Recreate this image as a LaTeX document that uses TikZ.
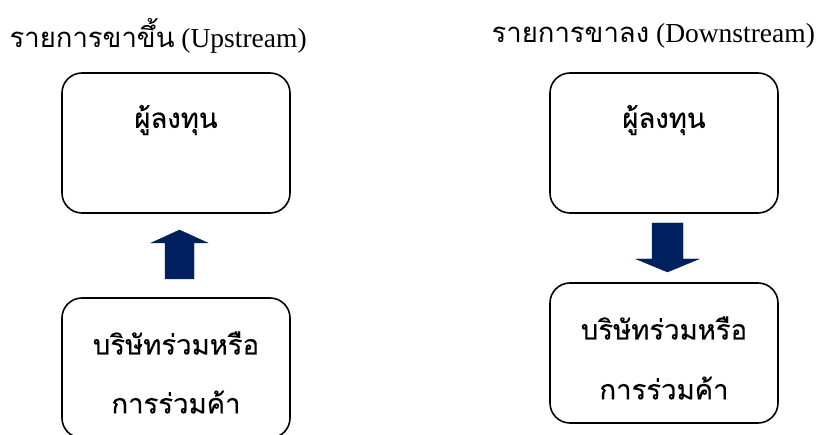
\documentclass[tikz,border=0pt]{standalone}
\usepackage{fontspec}
\setmainfont{Liberation Serif}
\newfontfamily\thai[Script=Thai]{Loma}
\newfontfamily\thaibox[Script=Thai,FakeBold=0.3]{Loma}
\definecolor{navy}{HTML}{002060}
\begin{document}
\begin{tikzpicture}[x=1pt,y=-1pt,
  rbox/.style={draw=black,line width=1.6pt,rounded corners=20pt,minimum width=228pt,inner sep=0pt},
  boxtext/.style={font=\thaibox\fontsize{27.5}{27.5}\selectfont},
  titletext/.style={font=\fontsize{27.5}{27.5}\selectfont,anchor=west},
  blockarrow/.style={fill=navy,draw=navy!80!black,line width=0.4pt}]
\useasboundingbox (0,0) rectangle (820,435);
% titles
\node[titletext] (tl) at (6,36) {{\thai รายการขาขึ้น} (Upstream)};
\node[titletext] (tr) at (488,36) {{\thai รายการขาลง} (Downstream)};
% left boxes
\node[rbox,minimum height=140pt] (lt) at (176,143) {};
\node[boxtext] (ltt) at (176,120) {ผู้ลงทุน};
\node[rbox,minimum height=140pt] (lb) at (176,368) {};
\node[boxtext] (lbt1) at (176,343) {บริษัทร่วมหรือ};
\node[boxtext] (lbt2) at (176,402) {การร่วมค้า};
% right boxes
\node[rbox,minimum height=140pt] (rt) at (664,143) {};
\node[boxtext] (rtt) at (664,120) {ผู้ลงทุน};
\node[rbox,minimum height=140pt] (rb) at (664,353) {};
\node[boxtext] (rbt1) at (664,328) {บริษัทร่วมหรือ};
\node[boxtext] (rbt2) at (664,388) {การร่วมค้า};
% up arrow (left)
\coordinate (ua) at (179.5,230);
\fill[blockarrow] (ua) -- ++(28.5,13) -- ++(-14,0) -- ++(0,36) -- ++(-29,0) -- ++(0,-36) -- ++(-14,0) -- cycle;
% down arrow (right)
\coordinate (da) at (667.5,272);
\fill[blockarrow] (da) -- ++(31.5,-13) -- ++(-16,0) -- ++(0,-36) -- ++(-31,0) -- ++(0,36) -- ++(-16,0) -- cycle;
\end{tikzpicture}
\end{document}
